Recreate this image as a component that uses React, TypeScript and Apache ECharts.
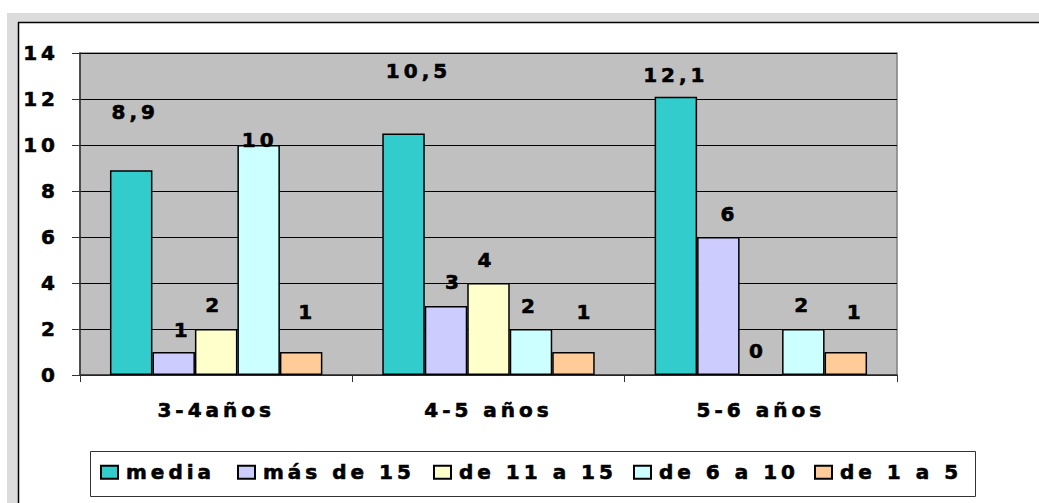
import React, { useEffect, useRef } from "react";
import * as echarts from "echarts";

const categories = ["3-4años", "4-5 años", "5-6 años"];
const seriesNames = ["media", "más de 15", "de 11 a 15", "de 6 a 10", "de 1 a 5"];
const media = [8.9, 10.5, 12.1];
const masDe15 = [1, 3, 6];
const de11a15 = [2, 4, 0];
const de6a10 = [10, 2, 2];
const de1a5 = [1, 1, 1];
const seriesValues = [media, masDe15, de11a15, de6a10, de1a5];
const colors = ["#33CCCC", "#CCCCFF", "#FFFFCC", "#CCFFFF", "#FFCC99"];

// label placement (pixel offsets from bar top centre), a style setting
const labelOffsets = [
  [[2, -58], [13, -63], [-2, -22]],
  [[7, -22], [6, -24], [9, -23]],
  [[-4, -24], [-4, -23], [-5, -23]],
  [[-1, -5], [-3, -23], [-2, -24]],
  [[4, -40], [10, -40], [8, -40]],
];
const legendLefts = [100, 237, 433, 633, 814];
const SP = 4; // letter spacing px
const FONT = "DejaVu Sans";
const FS = 20;
const heavy = { textBorderColor: "#000", textBorderWidth: 0.6 };

export default function App() {
  const ref = useRef<HTMLDivElement>(null);
  useEffect(() => {
    if (!ref.current) return;
    const chart = echarts.init(ref.current, null, { renderer: "svg" });
    const series = seriesNames.map((name, si) => ({
      name,
      type: "bar",
      barGap: "0%",
      barCategoryGap: "22%",
      itemStyle: { color: colors[si], borderColor: "#000", borderWidth: 1.5 },
      label: {
        show: true,
        position: "top",
        distance: 0,
        align: "center",
        verticalAlign: "middle",
        color: "#000",
        fontFamily: FONT,
        fontWeight: "bold",
        fontSize: FS,
        ...heavy,
        formatter: (p: any) => String(p.value).replace(".", ","),
      },
      data: seriesValues[si].map((v, ci) => ({
        value: v,
        label: { offset: [labelOffsets[si][ci][0] + SP / 2, labelOffsets[si][ci][1]] },
      })),
    }));
    const legends = seriesNames.map((name, i) => ({
      data: [name],
      left: legendLefts[i],
      top: 462,
      padding: 0,
      icon: "rect",
      itemWidth: 17,
      itemHeight: 13,
      selectedMode: false,
      itemStyle: { borderColor: "#000", borderWidth: 2 },
      textStyle: {
        fontFamily: FONT,
        fontWeight: "bold",
        fontSize: FS,
        color: "#000",
        ...heavy,
        padding: [0, 0, 0, 3],
      },
    }));
    chart.setOption({
      animation: false,
      backgroundColor: "#ffffff",
      graphic: [
        { type: "rect", z: -100, shape: { x: 7, y: 13, width: 1040, height: 500 }, style: { fill: "#dcdcdc" } },
        { type: "rect", z: -99, shape: { x: 18, y: 22, width: 1030, height: 490 }, style: { fill: "#ffffff" } },
        { type: "line", z: -98, shape: { x1: 18, y1: 22.5, x2: 1039, y2: 22.5 }, style: { stroke: "#000", lineWidth: 1.5 } },
        { type: "line", z: -98, shape: { x1: 18.5, y1: 22, x2: 18.5, y2: 503 }, style: { stroke: "#000", lineWidth: 1.5 } },
        { type: "rect", z: -97, shape: { x: 90.5, y: 451.5, width: 885, height: 45 }, style: { fill: "#fff", stroke: "#333", lineWidth: 1 } },
      ],
      legend: legends,
      grid: {
        left: 80,
        top: 53,
        right: 142,
        bottom: 128,
        show: true,
        backgroundColor: "#c0c0c0",
        borderColor: "#808080",
        borderWidth: 1.5,
      },
      xAxis: {
        type: "category",
        data: categories,
        axisLine: { lineStyle: { color: "#333", width: 1.5 } },
        axisTick: { show: true, length: 7, lineStyle: { color: "#333", width: 1 } },
        axisLabel: {
          margin: 25,
          color: "#000",
          fontFamily: FONT,
          fontWeight: "bold",
          fontSize: FS,
          ...heavy,
        },
      },
      yAxis: {
        type: "value",
        min: 0,
        max: 14,
        interval: 2,
        axisLine: { show: true, lineStyle: { color: "#333", width: 1.5 } },
        axisTick: { show: true, length: 8, lineStyle: { color: "#333", width: 1 } },
        splitLine: { show: true, lineStyle: { color: "#000", width: 1 } },
        axisLabel: {
          margin: 21,
          color: "#000",
          fontFamily: FONT,
          fontWeight: "bold",
          fontSize: FS,
          ...heavy,
        },
      },
      series,
    });
    return () => chart.dispose();
  }, []);
  return (
    <>
      <style>{`#chartbox text { letter-spacing: ${SP}px; }`}</style>
      <div
        id="chartbox"
        ref={ref}
        style={{ position: "fixed", left: 0, top: 0, width: 1039, height: 503 }}
      />
    </>
  );
}
